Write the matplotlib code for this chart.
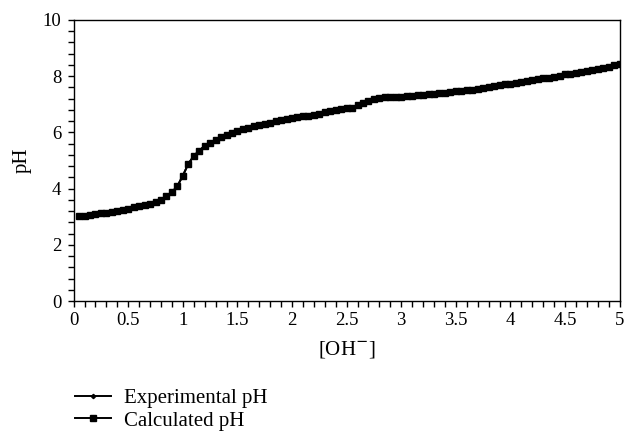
import numpy as np
import matplotlib
matplotlib.use("Agg")
import matplotlib.pyplot as plt
from matplotlib.ticker import MultipleLocator

plt.rcParams['font.family'] = ['Liberation Serif', 'DejaVu Serif']

# [OH-] added, step 0.05
oh = np.round(np.arange(0.05, 5.0001, 0.05), 2)

ph_experimental = [
    3.01, 3.04, 3.06, 3.10, 3.13, 3.14, 3.18, 3.22, 3.25, 3.29,
    3.34, 3.37, 3.42, 3.47, 3.52, 3.60, 3.74, 3.87, 4.09, 4.46,
    4.88, 5.16, 5.35, 5.52, 5.63, 5.73, 5.82, 5.90, 5.97, 6.04,
    6.11, 6.17, 6.23, 6.26, 6.30, 6.35, 6.39, 6.44, 6.48, 6.52,
    6.56, 6.59, 6.57, 6.63, 6.67, 6.71, 6.75, 6.80, 6.83, 6.87,
    6.88, 6.98, 7.05, 7.13, 7.18, 7.21, 7.25, 7.25, 7.26, 7.27,
    7.30, 7.31, 7.33, 7.34, 7.37, 7.38, 7.40, 7.41, 7.44, 7.46,
    7.48, 7.51, 7.52, 7.54, 7.57, 7.60, 7.64, 7.67, 7.71, 7.73,
    7.76, 7.78, 7.82, 7.85, 7.89, 7.92, 7.95, 7.98, 8.02, 8.07,
    8.09, 8.12, 8.16, 8.19, 8.21, 8.26, 8.30, 8.33, 8.38, 8.42,
]
ph_calculated = list(ph_experimental)

x_ticks = [0, 0.5, 1, 1.5, 2, 2.5, 3, 3.5, 4, 4.5, 5]
x_tick_labels = ['0', '0.5', '1', '1.5', '2', '2.5', '3', '3.5', '4', '4.5', '5']
y_ticks = [0, 2, 4, 6, 8, 10]

fig = plt.figure(figsize=(6.24, 4.32), dpi=100)
ax = fig.add_axes([0.118, 0.303, 0.875, 0.651])

ax.plot(oh, ph_experimental, color='black', lw=1.4, marker='D', ms=2.2,
        label='Experimental pH')
ax.plot(oh, ph_calculated, color='black', lw=1.4, marker='s', ms=3.8,
        label='Calculated pH')

ax.set_xlim(0, 5)
ax.set_ylim(0, 10)
ax.set_xticks(x_ticks)
ax.set_xticklabels(x_tick_labels)
ax.set_yticks(y_ticks)
ax.xaxis.set_minor_locator(MultipleLocator(0.1))
ax.yaxis.set_minor_locator(MultipleLocator(0.4))
ax.tick_params(which='both', direction='out', length=4, width=1.0,
               labelsize=13.5, color='black')
ax.tick_params(axis='x', pad=4)
ax.tick_params(axis='y', pad=5)
for sp in ax.spines.values():
    sp.set_linewidth(1.0)
    sp.set_color('black')

ax.set_xlabel('[OH$^{-}$]', fontsize=15, labelpad=7)
ax.set_ylabel('pH', fontsize=15, labelpad=8)

fig.legend(loc='upper left', bbox_to_anchor=(0.107, 0.12), frameon=False,
           fontsize=15, handlelength=1.7, handletextpad=0.67,
           labelspacing=0.15, borderaxespad=0)

fig.savefig('out.png', dpi=100)
